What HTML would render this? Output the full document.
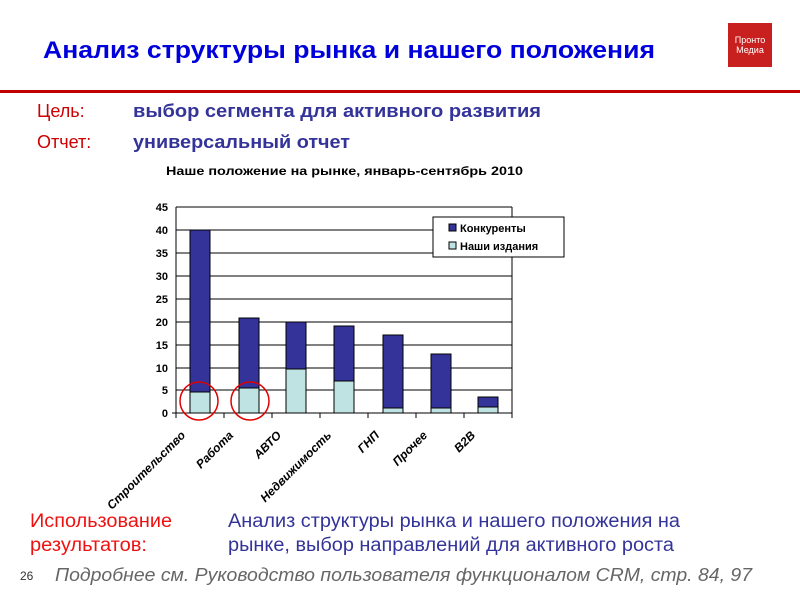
<!DOCTYPE html>
<html><head><meta charset="utf-8"><style>body{margin:0;background:#fff}svg{display:block}</style></head><body>
<svg width="800" height="600" xmlns="http://www.w3.org/2000/svg" font-family="Liberation Sans, sans-serif">
<rect width="800" height="600" fill="#fff"/>
<text x="43" y="58" font-size="24" font-weight="bold" fill="#0000dd" textLength="612" lengthAdjust="spacingAndGlyphs">Анализ структуры рынка и нашего положения</text>
<rect x="728" y="23" width="44" height="44" fill="#c8201e"/>
<text x="750" y="43" font-size="9" fill="#fff" text-anchor="middle">Пронто</text>
<text x="750" y="53" font-size="9" fill="#fff" text-anchor="middle">Медиа</text>
<rect x="0" y="90" width="800" height="3" fill="#c00000"/>
<text x="37" y="117" font-size="18" fill="#cc0000">Цель:</text>
<text x="133" y="117" font-size="18" font-weight="bold" fill="#333399" textLength="408" lengthAdjust="spacingAndGlyphs">выбор сегмента для активного развития</text>
<text x="37" y="148" font-size="18" fill="#cc0000">Отчет:</text>
<text x="133" y="148" font-size="18" font-weight="bold" fill="#333399" textLength="217" lengthAdjust="spacingAndGlyphs">универсальный отчет</text>
<text x="166" y="175" font-size="12" font-weight="bold" fill="#000" textLength="357" lengthAdjust="spacingAndGlyphs">Наше положение на рынке, январь-сентябрь 2010</text>
<g stroke="#000" stroke-width="1">
<line x1="176" y1="207" x2="512" y2="207"/>
<line x1="176" y1="230" x2="512" y2="230"/>
<line x1="176" y1="253" x2="512" y2="253"/>
<line x1="176" y1="276" x2="512" y2="276"/>
<line x1="176" y1="299" x2="512" y2="299"/>
<line x1="176" y1="322" x2="512" y2="322"/>
<line x1="176" y1="345" x2="512" y2="345"/>
<line x1="176" y1="368" x2="512" y2="368"/>
<line x1="176" y1="390" x2="512" y2="390"/>
<line x1="176" y1="207" x2="176" y2="413"/>
<line x1="512" y1="207" x2="512" y2="413"/>
<line x1="172" y1="413" x2="512" y2="413"/>
<line x1="176" y1="413" x2="176" y2="418"/><line x1="224" y1="413" x2="224" y2="418"/><line x1="272" y1="413" x2="272" y2="418"/><line x1="320" y1="413" x2="320" y2="418"/><line x1="368" y1="413" x2="368" y2="418"/><line x1="416" y1="413" x2="416" y2="418"/><line x1="464" y1="413" x2="464" y2="418"/><line x1="512" y1="413" x2="512" y2="418"/>
</g>
<g font-size="11" font-weight="bold" text-anchor="end">
<text x="168" y="211">45</text><text x="168" y="234">40</text><text x="168" y="257">35</text><text x="168" y="280">30</text><text x="168" y="303">25</text><text x="168" y="326">20</text><text x="168" y="349">15</text><text x="168" y="372">10</text><text x="168" y="394">5</text><text x="168" y="417">0</text>
</g>
<g stroke="#000" stroke-width="1">
<rect x="190" y="230" width="20" height="162" fill="#333399"/><rect x="190" y="392" width="20" height="21" fill="#bfe3e3"/>
<rect x="239" y="318" width="20" height="70" fill="#333399"/><rect x="239" y="388" width="20" height="25" fill="#bfe3e3"/>
<rect x="286" y="322" width="20" height="47" fill="#333399"/><rect x="286" y="369" width="20" height="44" fill="#bfe3e3"/>
<rect x="334" y="326" width="20" height="55" fill="#333399"/><rect x="334" y="381" width="20" height="32" fill="#bfe3e3"/>
<rect x="383" y="335" width="20" height="73" fill="#333399"/><rect x="383" y="408" width="20" height="5" fill="#bfe3e3"/>
<rect x="431" y="354" width="20" height="54" fill="#333399"/><rect x="431" y="408" width="20" height="5" fill="#bfe3e3"/>
<rect x="478" y="397" width="20" height="10" fill="#333399"/><rect x="478" y="407" width="20" height="6" fill="#bfe3e3"/>
<rect x="433" y="217" width="131" height="40" fill="#fff"/>
<rect x="449" y="224" width="7" height="7" fill="#333399"/>
<rect x="449" y="242" width="7" height="7" fill="#bfe3e3"/>
</g>
<text x="460" y="232" font-size="11" font-weight="bold">Конкуренты</text>
<text x="460" y="250" font-size="11" font-weight="bold">Наши издания</text>
<g fill="none" stroke="#e00000" stroke-width="1.5">
<ellipse cx="199" cy="401" rx="19" ry="19"/><ellipse cx="250" cy="401" rx="19" ry="19"/>
</g>
<clipPath id="c"><rect x="0" y="420" width="800" height="92"/></clipPath>
<g font-size="12" font-weight="bold" font-style="italic" text-anchor="end" clip-path="url(#c)">
<text transform="translate(186,436) rotate(-45)">Строительство</text>
<text transform="translate(234,436) rotate(-45)">Работа</text>
<text transform="translate(282,436) rotate(-45)">АВТО</text>
<text transform="translate(332,436) rotate(-45)">Недвижимость</text>
<text transform="translate(380,436) rotate(-45)">ГНП</text>
<text transform="translate(428,436) rotate(-45)">Прочее</text>
<text transform="translate(476,436) rotate(-45)">B2B</text>
</g>
<text x="30" y="527" font-size="19" fill="#ee1111" textLength="142" lengthAdjust="spacingAndGlyphs">Использование</text>
<text x="30" y="551" font-size="19" fill="#ee1111" textLength="117" lengthAdjust="spacingAndGlyphs">результатов:</text>
<text x="228" y="527" font-size="19" fill="#333399" textLength="452" lengthAdjust="spacingAndGlyphs">Анализ структуры рынка и нашего положения на</text>
<text x="228" y="551" font-size="19" fill="#333399" textLength="446" lengthAdjust="spacingAndGlyphs">рынке, выбор направлений для активного роста</text>
<text x="20" y="580" font-size="12" fill="#333">26</text>
<text x="55" y="581" font-size="18" font-style="italic" fill="#666" textLength="697" lengthAdjust="spacingAndGlyphs">Подробнее см. Руководство пользователя функционалом CRM, стр. 84, 97</text>
</svg>
</body></html>
